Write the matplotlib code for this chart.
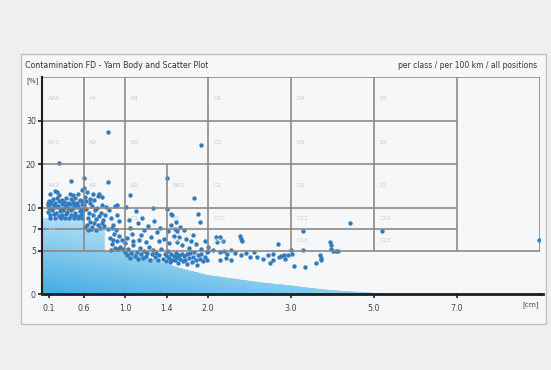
import numpy as np
import matplotlib
matplotlib.use("Agg")
import matplotlib.pyplot as plt
from matplotlib.patches import Polygon, Rectangle
from matplotlib.colors import to_rgb

# ---------------- data ----------------
title_left = "Contamination FD - Yarn Body and Scatter Plot"
title_right = "per class / per 100 km / all positions"
x_ticks = [0.1, 0.6, 1.0, 1.4, 2.0, 3.0, 5.0, 7.0]
x_tick_labels = ["0.1", "0.6", "1.0", "1.4", "2.0", "3.0", "5.0", "7.0"]
y_ticks = [0, 5, 7, 10, 20, 30]
y_tick_labels = ["0", "5", "7", "10", "20", "30"]

# piecewise axis breaks (value -> equal-width class steps)
x_breaks = [0.0, 0.6, 1.0, 1.4, 2.0, 3.0, 5.0, 7.0, 9.0]
x_units = [0, 1, 2, 3, 4, 6, 8, 10, 12]
y_breaks = [0, 5, 7, 10, 20, 30, 40]
y_units = [0, 2, 3, 4, 6, 8, 10]

# yarn body envelope
body_x = [0.0, 0.6, 0.6, 0.8, 0.8, 1.05, 1.2, 1.4, 1.6, 1.8, 2.0, 2.3, 2.6, 3.0, 3.5, 4.0, 4.5, 5.0, 5.4]
body_y = [8.5, 8.5, 6.9, 6.9, 5.0, 5.0, 4.3, 3.5, 3.0, 2.6, 2.2, 1.8, 1.4, 1.0, 0.7, 0.45, 0.3, 0.15, 0.0]

# class grid: horizontal (y, x_start, x_end) and vertical (x, y_start, y_end)
h_lines = [(40, 0, 9.0), (30, 0, 7.0), (20, 0, 7.0), (10, 0, 7.0), (7, 0, 7.0), (5, 0, 9.0)]
v_lines = [(0.6, 5, 40), (1.0, 5, 40), (1.4, 5, 20), (2.0, 5, 40), (3.0, 5, 40),
           (5.0, 5, 40), (7.0, 5, 40), (9.0, 5, 40)]

# class labels (x_left, y_center, text)
class_labels = [
    (0.0, 35, "AA4"), (0.6, 35, "A4"), (1.0, 35, "B4"), (2.0, 35, "C4"), (3.0, 35, "D4"), (5.0, 35, "E4"),
    (0.0, 25, "AA3"), (0.6, 25, "A3"), (1.0, 25, "B3"), (2.0, 25, "C3"), (3.0, 25, "D3"), (5.0, 25, "E3"),
    (0.0, 15, "AA2"), (0.6, 15, "A2"), (1.0, 15, "B2"), (1.4, 15, "BB2"), (2.0, 15, "C2"), (3.0, 15, "D2"), (5.0, 15, "E2"),
    (1.0, 8.5, "C1"), (1.4, 8.5, "B1"), (2.0, 8.5, "C10"), (3.0, 8.5, "C12"), (5.0, 8.5, "C14"),
    (0.0, 6.9, "A1"), (1.4, 6.0, "B0"), (2.0, 6.0, "C11"), (3.0, 6.0, "C13"), (5.0, 6.0, "C15"),
]

# scatter points (length cm, size %)
points = [
    # dense cluster 0.1-0.6
    (0.10, 11.6), (0.16, 11.9), (0.22, 12.1), (0.28, 11.8), (0.35, 12.2), (0.42, 11.9), (0.48, 12.3), (0.55, 11.7),
    (0.09, 11.1), (0.13, 11.3), (0.19, 11.0), (0.25, 11.4), (0.31, 11.2), (0.37, 11.0), (0.44, 11.3), (0.50, 11.1), (0.57, 11.4),
    (0.08, 10.5), (0.12, 10.8), (0.17, 10.6), (0.23, 10.4), (0.29, 10.7), (0.34, 10.5), (0.40, 10.8), (0.46, 10.6), (0.52, 10.4), (0.58, 10.7),
    (0.10, 10.0), (0.15, 9.9), (0.21, 10.1), (0.27, 9.8), (0.33, 10.2), (0.38, 9.9), (0.45, 10.0), (0.51, 10.2), (0.56, 9.8),
    (0.09, 9.4), (0.14, 9.6), (0.20, 9.3), (0.26, 9.5), (0.30, 9.7), (0.36, 9.4), (0.42, 9.6), (0.48, 9.3), (0.54, 9.5), (0.59, 9.6),
    (0.11, 8.9), (0.17, 9.1), (0.24, 8.8), (0.29, 9.0), (0.35, 9.1), (0.41, 8.9), (0.47, 9.0), (0.53, 8.8), (0.58, 9.1),
    (0.12, 8.6), (0.19, 8.5), (0.27, 8.6), (0.33, 8.5), (0.39, 8.6), (0.46, 8.5), (0.52, 8.6), (0.57, 8.5),
    (0.12, 13.0), (0.18, 13.8), (0.22, 13.5), (0.25, 12.8), (0.40, 13.2), (0.52, 13.0), (0.58, 14.0), (0.45, 12.8),
    # 0.6-0.95
    (0.60, 10.5), (0.62, 11.5), (0.61, 12.5), (0.63, 13.5), (0.60, 14.5), (0.62, 9.8), (0.65, 9.2), (0.64, 8.6),
    (0.66, 8.0), (0.63, 7.6), (0.68, 7.3), (0.70, 7.9), (0.72, 8.4), (0.69, 8.9), (0.74, 7.6), (0.76, 7.1),
    (0.78, 7.8), (0.80, 7.4), (0.67, 7.0), (0.72, 6.9), (0.75, 8.8), (0.71, 9.6), (0.68, 10.4), (0.66, 11.0),
    (0.70, 11.8), (0.74, 12.6), (0.78, 10.6), (0.82, 10.2), (0.84, 9.6), (0.86, 8.6), (0.88, 7.6), (0.83, 7.0),
    (0.79, 8.3), (0.81, 9.0), (0.90, 10.4), (0.92, 9.0), (0.94, 8.1), (0.87, 7.2), (0.64, 6.9), (0.61, 7.3),
    (0.77, 9.3), (0.73, 10.0), (0.66, 12.0), (0.69, 13.0), (0.75, 13.0), (0.78, 12.4), (0.92, 10.5), (1.01, 10.2),
    # 0.85-1.0, 5-7
    (0.85, 6.2), (0.87, 5.6), (0.89, 6.6), (0.90, 5.3), (0.92, 5.9), (0.94, 6.4), (0.95, 5.4), (0.97, 6.0),
    (0.98, 5.2), (0.86, 5.1), (0.91, 6.9), (1.00, 5.7), (0.88, 6.0), (0.93, 5.2),
    # 1.0-2.0 lower band
    (1.00, 4.9), (1.02, 4.5), (1.03, 5.2), (1.05, 4.2), (1.06, 4.8), (1.08, 5.5), (1.09, 4.4), (1.11, 4.9),
    (1.12, 4.1), (1.14, 5.3), (1.15, 4.6), (1.17, 4.2), (1.18, 5.0), (1.20, 4.4), (1.21, 4.8), (1.23, 5.4),
    (1.24, 4.0), (1.26, 4.6), (1.27, 5.1), (1.29, 4.3), (1.30, 4.8), (1.32, 3.9), (1.33, 4.5), (1.35, 5.2),
    (1.36, 4.1), (1.38, 4.7), (1.39, 3.8), (1.41, 4.4), (1.42, 5.0), (1.44, 4.2), (1.45, 3.7), (1.47, 4.6),
    (1.48, 4.0), (1.50, 4.4), (1.52, 3.9), (1.53, 4.8), (1.55, 4.3), (1.57, 3.6), (1.58, 4.5), (1.60, 4.1),
    (1.62, 4.7), (1.63, 3.8), (1.65, 4.4), (1.67, 4.0), (1.69, 3.5), (1.70, 4.6), (1.72, 4.2), (1.74, 4.8),
    (1.76, 3.7), (1.78, 4.3), (1.80, 4.9), (1.82, 4.0), (1.84, 3.4), (1.86, 4.5), (1.88, 4.1), (1.90, 4.7),
    (1.93, 3.8), (1.95, 4.3), (1.98, 4.9),
    # 1.0-1.6 upper scatter
    (1.02, 6.2), (1.05, 7.1), (1.04, 8.3), (1.07, 6.6), (1.10, 9.5), (1.12, 7.8), (1.13, 6.0), (1.16, 8.6),
    (1.18, 6.9), (1.20, 5.8), (1.22, 7.5), (1.25, 6.3), (1.27, 9.9), (1.28, 8.1), (1.31, 6.7), (1.33, 5.9),
    (1.34, 7.2), (1.37, 6.1), (1.40, 9.8), (1.42, 6.8), (1.44, 5.7), (1.46, 7.6), (1.48, 8.9), (1.50, 6.4),
    (1.52, 7.0), (1.55, 5.8), (1.58, 6.3), (1.60, 7.3), (1.47, 9.1), (1.53, 8.0), (1.15, 6.5), (1.08, 5.9),
    # 1.45-2.0, 5-7
    (1.55, 6.8), (1.62, 5.5), (1.68, 6.1), (1.72, 5.3), (1.78, 6.5), (1.83, 5.6), (1.90, 5.2), (1.95, 5.9),
    (2.00, 5.4), (1.65, 6.9), (1.75, 5.9), (1.85, 9.1), (1.88, 8.0),
    # 2.0-3.0
    (2.10, 6.3), (2.14, 6.3), (2.18, 5.9), (2.11, 5.8), (2.38, 6.4), (2.40, 6.1), (2.41, 5.9), (2.00, 5.0),
    (2.06, 5.1), (2.14, 4.9), (2.19, 5.0), (2.23, 4.7), (2.28, 5.1), (2.32, 4.8), (2.40, 4.5), (2.46, 4.8),
    (2.51, 4.3), (2.55, 4.9), (2.59, 4.3), (2.66, 4.1), (2.72, 4.5), (2.78, 4.6), (2.86, 4.3), (2.92, 4.5),
    (2.93, 4.1), (2.14, 3.9), (2.21, 4.2), (1.98, 3.9), (2.28, 4.0), (2.74, 3.6), (2.78, 3.9), (2.84, 5.6),
    # 2.9-4.2
    (2.88, 4.4), (2.96, 4.5), (3.00, 5.1), (3.02, 4.6), (3.29, 5.1), (3.28, 6.8), (3.07, 3.3),
    (3.34, 3.2), (3.61, 3.6), (3.72, 4.2), (3.73, 3.9), (3.70, 4.5), (3.93, 5.8), (3.95, 5.5), (3.97, 5.2),
    (4.00, 5.0), (4.08, 5.0), (4.13, 5.0), (4.43, 7.9), (5.18, 6.8), (8.98, 6.0),
    # outliers
    (0.83, 27.3), (1.90, 24.5), (0.25, 20.2), (0.41, 16.0), (0.60, 16.8), (0.83, 15.9), (1.40, 16.8),
    (1.05, 12.8), (1.79, 12.1),
]
pts_x = [p[0] for p in points]
pts_y = [p[1] for p in points]

# ---------------- figure ----------------
W, H = 551, 370
fig = plt.figure(figsize=(W / 100, H / 100), dpi=100)
fig.patch.set_facecolor("#eeeff1")

panel = Rectangle((20.5 / W, 1 - 324 / H), 525.5 / W, 270 / H, transform=fig.transFigure,
                  facecolor="#f6f7f9", edgecolor="#c2c2c2", lw=1.0, zorder=-10)
fig.patches.append(panel)

ax = fig.add_axes([42.2 / W, 1 - 294.3 / H, (540 - 42.2) / W, (294.3 - 77.3) / H])
ax.set_zorder(1)
ax.patch.set_visible(False)

fx = lambda v: np.interp(v, x_breaks, x_units)
ix = lambda u: np.interp(u, x_units, x_breaks)
fy = lambda v: np.interp(v, y_breaks, y_units)
iy = lambda u: np.interp(u, y_units, y_breaks)
ax.set_xscale("function", functions=(fx, ix))
ax.set_yscale("function", functions=(fy, iy))
ax.set_xlim(0, 9.0)
ax.set_ylim(0, 40)

# yarn body with gradient
verts = [(0, 0)] + list(zip(body_x, body_y)) + [(body_x[-1], 0)]
poly = Polygon(verts, closed=True, facecolor="#6cc2ec", edgecolor="none", transform=ax.transData, zorder=1)
ax.add_patch(poly)
ny, nx = 200, 300
gy, gx = np.mgrid[0:1:ny * 1j, 0:1:nx * 1j]
t = np.clip(gy * 2.3 + gx * 0.9, 0, 1)[..., None]
dark = np.array(to_rgb("#42ace2"))
light = np.array(to_rgb("#c6e8f8"))
img = dark * (1 - t) + light * t
im = ax.imshow(img, extent=[0, 1, 0, 1], origin="lower", transform=ax.transAxes,
               aspect="auto", zorder=1.5, interpolation="bilinear")
im.set_clip_path(poly)
ax.set_xlim(0, 9.0)
ax.set_ylim(0, 40)

# scatter
ax.scatter(pts_x, pts_y, s=10, marker="o", color="#2f7bbf", linewidths=0, zorder=3)

# grid
gc = "#8c8782"
for yv, x0, x1 in h_lines:
    ax.plot([x0, x1], [yv, yv], color=gc, lw=1.3, zorder=4, alpha=0.9, solid_capstyle="butt")
for xv, y0, y1 in v_lines:
    ax.plot([xv, xv], [y0, y1], color=gc, lw=1.3, zorder=4, alpha=0.9, solid_capstyle="butt")

for xl, yc, txt in class_labels:
    ax.annotate(txt, (xl, yc), xytext=(4, 0), textcoords="offset points", va="center", ha="left",
                fontsize=4.3, color="#cbcbcb", zorder=5)

# axes styling
for s in ["top", "right"]:
    ax.spines[s].set_visible(False)
ax.spines["left"].set_linewidth(1.5)
ax.spines["left"].set_color("#1e1e1e")
ax.spines["bottom"].set_linewidth(2.0)
ax.spines["bottom"].set_color("#1e1e1e")
ax.spines["left"].set_zorder(6)
ax.spines["bottom"].set_zorder(6)
ax.plot([1.0, 1.006], [0, 0], transform=ax.transAxes, color="#1e1e1e", lw=2.0, clip_on=False, zorder=6)

ax.set_xticks(x_ticks)
ax.set_xticklabels(x_tick_labels)
ax.set_yticks(y_ticks)
ax.set_yticklabels(y_tick_labels)
ax.minorticks_off()
ax.tick_params(axis="both", direction="out", length=3, width=1.2, color="#1e1e1e",
               labelsize=5.7, labelcolor="#444444")
ax.tick_params(axis="x", pad=4)
ax.tick_params(axis="y", pad=1.5)

fig.text(25 / W, 1 - 66 / H, title_left, ha="left", va="center", fontsize=5.7, color="#333333")
fig.text(537 / W, 1 - 66 / H, title_right, ha="right", va="center", fontsize=5.5, color="#333333")
fig.text(26 / W, 1 - 81 / H, "[%]", ha="left", va="center", fontsize=5.2, color="#444444")
fig.text(539 / W, 1 - 305 / H, "[cm]", ha="right", va="center", fontsize=5.2, color="#444444")

fig.savefig("out.png", dpi=100, facecolor=fig.get_facecolor())
